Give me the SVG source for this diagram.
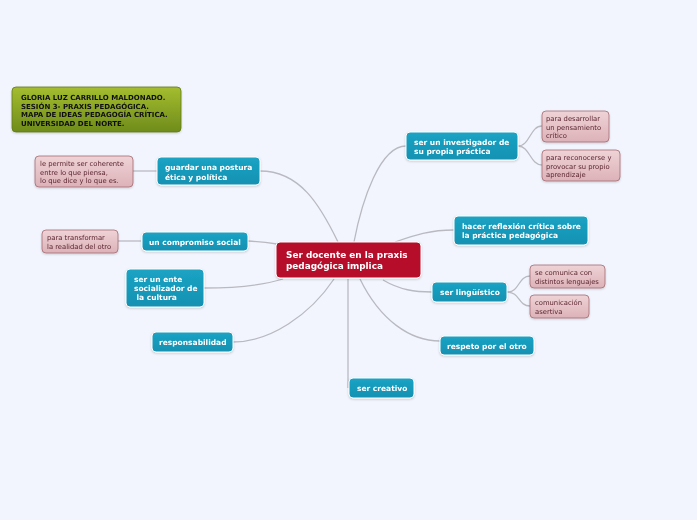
<svg xmlns="http://www.w3.org/2000/svg" width="697" height="520" viewBox="0 0 697 520">
<style>
  .bg{fill:#f3f5fe}
  .con{fill:none;stroke:#b9b9c1;stroke-width:1.3}
  .blue{fill:url(#gBlue);stroke:#ffffff;stroke-width:1}
  .pink{fill:url(#gPink);stroke:#a56b74;stroke-width:0.8}
  .bt{font-family:"DejaVu Sans",Verdana,sans-serif;font-weight:bold;font-size:7.5px;fill:#ffffff}
  .pt{font-family:"DejaVu Sans",Verdana,sans-serif;font-size:6.8px;fill:#5a2530}
  .ct{font-family:"DejaVu Sans",Verdana,sans-serif;font-weight:bold;font-size:8.9px;fill:#ffffff}
  .tt{font-family:"DejaVu Sans",Verdana,sans-serif;font-weight:bold;font-size:7px;fill:#111111}
</style>
<defs>
  <linearGradient id="gBlue" x1="0" y1="0" x2="0" y2="1">
    <stop offset="0" stop-color="#1ba3c4"/>
    <stop offset="1" stop-color="#1391b2"/>
  </linearGradient>
  <linearGradient id="gPink" x1="0" y1="0" x2="0" y2="1">
    <stop offset="0" stop-color="#efd3d6"/>
    <stop offset="1" stop-color="#dcb2b8"/>
  </linearGradient>
  <linearGradient id="gGreen" x1="0" y1="0" x2="0" y2="1">
    <stop offset="0" stop-color="#a4bd2f"/>
    <stop offset="1" stop-color="#6f8c1b"/>
  </linearGradient>
  <filter id="sh" x="-10%" y="-10%" width="120%" height="130%">
    <feDropShadow dx="0" dy="1" stdDeviation="0.8" flood-color="#000" flood-opacity="0.18"/>
  </filter>
</defs>
<rect class="bg" x="0" y="0" width="697" height="520"/>

<g id="connectors">
  <path class="con" d="M354,242 C362,200 380,146 406,146"/>
  <path class="con" d="M338,242 C320,205 300,171 260,171"/>
  <path class="con" d="M395,242 C415,235 430,230 454,230"/>
  <path class="con" d="M277,244 Q262,242 248,241"/>
  <path class="con" d="M283,279 C260,286 230,288 204,288"/>
  <path class="con" d="M334,279 C310,315 270,342 233,342"/>
  <path class="con" d="M348,279 L348,388"/>
  <path class="con" d="M360,279 C380,320 410,341 440,341"/>
  <path class="con" d="M383,280 C400,290 415,292 432,292"/>
  <path class="con" d="M518,146 C530,146 530,126 542,126"/>
  <path class="con" d="M518,146 C530,146 530,165 542,165"/>
  <path class="con" d="M507,292 C520,292 518,276 530,276"/>
  <path class="con" d="M507,292 C520,292 518,306 530,306"/>
  <path class="con" d="M133,171 L157,171"/>
  <path class="con" d="M118,241 L141,241"/>
</g>

<g id="title" filter="url(#sh)">
  <rect x="12" y="87" width="169" height="45" rx="4" fill="url(#gGreen)" stroke="#5f7a15" stroke-width="0.8"/>
  <text class="tt" x="21" y="100">GLORIA LUZ CARRILLO MALDONADO.</text>
  <text class="tt" x="21" y="108.5">SESIÓN 3- PRAXIS PEDAGÓGICA.</text>
  <text class="tt" x="21" y="117">MAPA DE IDEAS PEDAGOGÍA CRÍTICA.</text>
  <text class="tt" x="21" y="125.5">UNIVERSIDAD DEL NORTE.</text>
</g>

<g id="central" filter="url(#sh)">
  <rect x="276" y="242" width="145" height="36" rx="4" fill="#b50f2b" stroke="#ffffff" stroke-width="1"/>
  <text class="ct" x="286" y="258">Ser docente en la praxis</text>
  <text class="ct" x="286" y="268.5">pedagógica implica</text>
</g>

<g id="n-investigador" filter="url(#sh)">
  <rect class="blue" x="406" y="132" width="112" height="28" rx="4"/>
  <text class="bt" x="414" y="144.5">ser un investigador de</text>
  <text class="bt" x="414" y="153.5">su propia práctica</text>
</g>
<g id="p-desarrollar" filter="url(#sh)">
  <rect class="pink" x="542" y="111" width="67" height="31" rx="4"/>
  <text class="pt" x="546" y="121">para desarrollar</text>
  <text class="pt" x="546" y="129.5">un pensamiento</text>
  <text class="pt" x="546" y="138">crítico</text>
</g>
<g id="p-reconocerse" filter="url(#sh)">
  <rect class="pink" x="542" y="150" width="78" height="31" rx="4"/>
  <text class="pt" x="546" y="160">para reconocerse y</text>
  <text class="pt" x="546" y="168.5">provocar su propio</text>
  <text class="pt" x="546" y="177">aprendizaje</text>
</g>

<g id="n-guardar" filter="url(#sh)">
  <rect class="blue" x="157" y="157" width="103" height="28" rx="4"/>
  <text class="bt" x="165" y="170">guardar una postura</text>
  <text class="bt" x="165" y="179.5">ética y política</text>
</g>
<g id="p-coherente" filter="url(#sh)">
  <rect class="pink" x="35" y="156" width="98" height="31" rx="4"/>
  <text class="pt" x="40" y="166">le permite ser coherente</text>
  <text class="pt" x="40" y="174.5">entre lo que piensa,</text>
  <text class="pt" x="40" y="183">lo que dice y lo que es.</text>
</g>

<g id="n-compromiso" filter="url(#sh)">
  <rect class="blue" x="142" y="232" width="106" height="19" rx="4"/>
  <text class="bt" x="149" y="244.5">un compromiso social</text>
</g>
<g id="p-transformar" filter="url(#sh)">
  <rect class="pink" x="42" y="230" width="76" height="23" rx="4"/>
  <text class="pt" x="47" y="240">para transformar</text>
  <text class="pt" x="47" y="249">la realidad del otro</text>
</g>

<g id="n-socializador" filter="url(#sh)">
  <rect class="blue" x="126" y="269" width="78" height="38" rx="4"/>
  <text class="bt" x="134" y="282">ser un ente</text>
  <text class="bt" x="134" y="291">socializador de</text>
  <text class="bt" x="136.5" y="300">la cultura</text>
</g>

<g id="n-responsabilidad" filter="url(#sh)">
  <rect class="blue" x="152" y="332" width="81" height="20" rx="4"/>
  <text class="bt" x="159" y="344.5">responsabilidad</text>
</g>

<g id="n-creativo" filter="url(#sh)">
  <rect class="blue" x="349" y="378" width="65" height="20" rx="4"/>
  <text class="bt" x="357" y="391">ser creativo</text>
</g>

<g id="n-respeto" filter="url(#sh)">
  <rect class="blue" x="440" y="336" width="94" height="19" rx="4"/>
  <text class="bt" x="447" y="348.5">respeto por el otro</text>
</g>

<g id="n-linguistico" filter="url(#sh)">
  <rect class="blue" x="432" y="282" width="75" height="20" rx="4"/>
  <text class="bt" x="440" y="294.5">ser lingüístico</text>
</g>
<g id="p-lenguajes" filter="url(#sh)">
  <rect class="pink" x="530" y="265" width="75" height="23" rx="4"/>
  <text class="pt" x="535" y="274.5">se comunica con</text>
  <text class="pt" x="535" y="283.5">distintos lenguajes</text>
</g>
<g id="p-asertiva" filter="url(#sh)">
  <rect class="pink" x="530" y="295" width="59" height="23" rx="4"/>
  <text class="pt" x="535" y="305">comunicación</text>
  <text class="pt" x="535" y="313.5">asertiva</text>
</g>

<g id="n-reflexion" filter="url(#sh)">
  <rect class="blue" x="454" y="216" width="134" height="29" rx="4"/>
  <text class="bt" x="462" y="229">hacer reflexión crítica sobre</text>
  <text class="bt" x="462" y="238">la práctica pedagógica</text>
</g>
</svg>
